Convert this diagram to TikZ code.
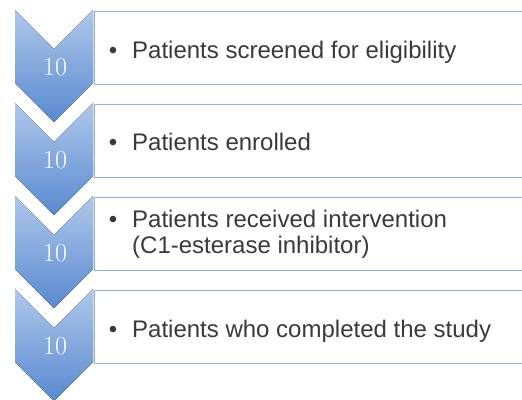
\documentclass[tikz,border=0pt]{standalone}
\usepackage{fontspec}
\newfontfamily\itemfont{Liberation Sans}
\usepackage{tikz}
\usetikzlibrary{positioning}
\definecolor{ChevTop}{HTML}{AFC8EB}
\definecolor{ChevBot}{HTML}{5889D0}
\definecolor{Rule}{HTML}{93B1DC}
\definecolor{Ink}{HTML}{3A3A3A}

\begin{document}
\begin{tikzpicture}[
  x=1pt,y=-1pt,
  chev/.style={top color=ChevTop,bottom color=ChevBot,draw=none},
  stepbox/.style={draw=Rule,line width=1.2pt,fill=white,anchor=north west,inner sep=0pt,
    minimum width=470pt,minimum height=73pt},
  count/.style={font=\fontsize{26}{30}\selectfont,text=white,inner sep=0pt},
  item/.style={font=\itemfont\fontsize{24}{26}\selectfont,text=Ink,align=left,inner sep=0pt}
]
\useasboundingbox (0,0) rectangle (522,399);

% chevrons down the left side
\foreach \i in {0,...,3}{
  \pgfmathsetmacro\ytop{10+93*\i}
  \fill[chev] (15,\ytop) -- (54,\ytop+39) -- (93,\ytop) -- (93,\ytop+73)
    -- (54,\ytop+112) -- (15,\ytop+73) -- cycle;
}

% boxes
\node[stepbox] (box1) at (94,10.5) {};
\node[stepbox] (box2) at (94,103.5) {};
\node[stepbox] (box3) at (94,196.5) {};
\node[stepbox] (box4) at (94,289.5) {};

% counts
\node[count] (n1) at (55,67) {10};
\node[count] (n2) at (55,160) {10};
\node[count] (n3) at (55,253) {10};
\node[count] (n4) at (55,346) {10};

% texts
\node[item,anchor=base west] (t1) at (132,58) {\llap{\textbullet\hspace{15pt}}Patients screened for eligibility};
\node[item,anchor=base west] (t2) at (132,150) {\llap{\textbullet\hspace{15pt}}Patients enrolled};
\node[item,anchor=west] (t3) at (132,234) {\llap{\textbullet\hspace{15pt}}Patients received intervention\\(C1-esterase inhibitor)};
\node[item,anchor=base west] (t4) at (132,337) {\llap{\textbullet\hspace{15pt}}Patients who completed the study};
\end{tikzpicture}
\end{document}
